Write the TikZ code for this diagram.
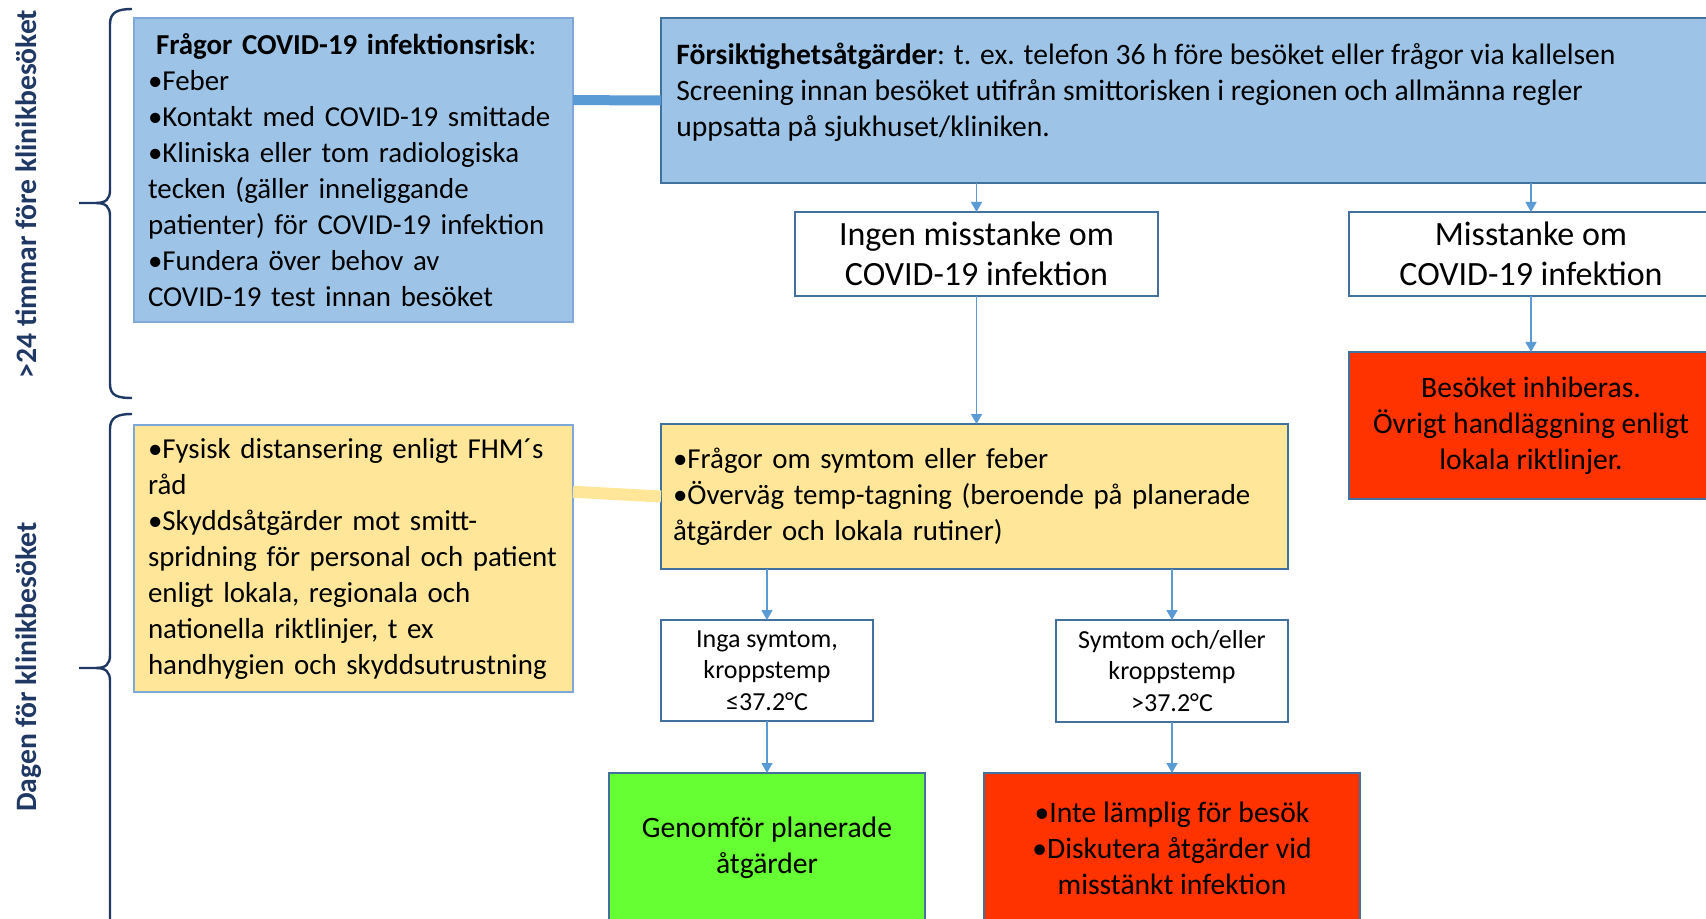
\documentclass[tikz,border=0pt]{standalone}
\usepackage{fontspec}
\setmainfont{Carlito}
\usetikzlibrary{calc,arrows.meta}
\definecolor{boxblue}{HTML}{9DC3E6}
\definecolor{boxyellow}{HTML}{FFE699}
\definecolor{boxgreen}{HTML}{66FF33}
\definecolor{boxred}{HTML}{FF3300}
\definecolor{edgeblue}{HTML}{41719C}
\definecolor{lightedge}{HTML}{7FA8D8}
\definecolor{arrowblue}{HTML}{5B9BD5}
\definecolor{navy}{HTML}{1F3864}
\tikzset{
 box/.style={draw=edgeblue, line width=1pt, rectangle, inner sep=0pt, outer sep=0pt, anchor=north west},
 lefttext/.style={font=\fontsize{14.45}{18}\selectfont},
 maintext/.style={font=\fontsize{14.8}{18}\selectfont},
 smalltext/.style={font=\fontsize{13}{15.75}\selectfont},
 bigtext/.style={font=\fontsize{17}{20}\selectfont},
 flow/.style={draw=arrowblue, line width=0.75pt, -{Triangle[length=5pt,width=5.5pt]}},
 sidelabel/.style={rotate=90, anchor=base, text=navy, font=\bfseries\fontsize{14.8}{17}\selectfont},
 bracepath/.style={draw=navy, line width=1.2pt},
}
\begin{document}
\begin{tikzpicture}[x=0.5pt,y=-0.5pt]
\useasboundingbox (0,0) rectangle (1706,919);
\clip (0,0) rectangle (1706,919);

% boxes
\node[box, fill=boxblue, draw=lightedge, minimum width=219.5pt, minimum height=152pt,
      text width=205.5pt, align=left, lefttext] (qbox) at (134,18)
 {\hspace*{4pt}\textbf{Frågor COVID-19 infektionsrisk}:\\
  •Feber\\
  •Kontakt med COVID-19 smittade\\
  •Kliniska eller tom radiologiska\\
  tecken (gäller inneliggande\\
  patienter) för COVID-19 infektion\\
  •Fundera över behov av\\
  COVID-19 test innan besöket};

\node[box, fill=boxblue, minimum width=529.5pt, minimum height=82.5pt] (fbox) at (661,18) {};
\node[maintext, align=left, anchor=north west, inner sep=0pt] (ftxt) at ([xshift=7.5pt,yshift=-12.5pt]fbox.north west)
 {\textbf{Försiktighetsåtgärder}: t. ex. telefon 36 h före besöket eller frågor via kallelsen\\
  Screening innan besöket utifrån smittorisken i regionen och allmänna regler\\
  uppsatta på sjukhuset/kliniken.};

\node[box, fill=white, minimum width=181.5pt, minimum height=42pt, align=center, bigtext] (ingen) at (795,212)
 {Ingen misstanke om\\COVID-19 infektion};
\node[box, fill=white, minimum width=182pt, minimum height=42pt, align=center, bigtext] (miss) at (1349,212)
 {Misstanke om\\COVID-19 infektion};
\node[box, fill=boxred, minimum width=182pt, minimum height=73.5pt, align=center, maintext] (besok) at (1349,352)
 {Besöket inhiberas.\\Övrigt handläggning enligt\\lokala riktlinjer.};

\node[box, fill=boxyellow, draw=lightedge, minimum width=219.5pt, minimum height=133.5pt,
      text width=205.5pt, align=left, lefttext] (ybox) at (134,425)
 {•Fysisk distansering enligt FHM´s\\
  råd\\
  •Skyddsåtgärder mot smitt-\\
  spridning för personal och patient\\
  enligt lokala, regionala och\\
  nationella riktlinjer, t ex\\
  handhygien och skyddsutrustning};

\node[box, fill=boxyellow, minimum width=313.5pt, minimum height=72.5pt,
      text width=301.5pt, align=left, lefttext] (symq) at (661,424)
 {•Frågor om symtom eller feber\\
  •Överväg temp-tagning (beroende på planerade\\
  åtgärder och lokala rutiner)};

\node[box, fill=white, minimum width=106pt, minimum height=50.5pt, align=center, smalltext] (inga) at (661,620)
 {Inga symtom,\\kroppstemp\\≤37.2°C};
\node[box, fill=white, minimum width=116pt, minimum height=51pt, align=center, smalltext] (symt) at (1056,620)
 {Symtom och/eller\\kroppstemp\\>37.2°C};

\node[box, fill=boxgreen, minimum width=158pt, minimum height=75pt, align=center, maintext] (green) at (609,773)
 {Genomför planerade\\åtgärder};
\node[box, fill=boxred, minimum width=188pt, minimum height=75pt, align=center, maintext] (redb) at (984,773)
 {•Inte lämplig för besök\\•Diskutera åtgärder vid\\misstänkt infektion};

% thick links
\draw[arrowblue, line width=5pt] ($(qbox.north east)!0.27!(qbox.south east)$) -- (fbox.west);
\draw[boxyellow, line width=6pt] ($(ybox.north east)!0.25!(ybox.south east)$) -- (symq.west);

% arrows
\draw[flow] (ingen.north |- fbox.south) -- (ingen.north);
\draw[flow] (miss.north |- fbox.south) -- (miss.north);
\draw[flow] (miss.south) -- (besok.north);
\draw[flow] (ingen.south) -- (ingen.south |- symq.north);
\draw[flow] (inga.north |- symq.south) -- (inga.north);
\draw[flow] (symt.north |- symq.south) -- (symt.north);
\draw[flow] (inga.south) -- (inga.south |- green.north);
\draw[flow] (symt.south) -- (symt.south |- redb.north);

% braces
\draw[bracepath] (132,9) .. controls (118,9) and (110,12) .. (110,24) -- (110,190)
  .. controls (110,199) and (106,203) .. (96,203) -- (79,203);
\draw[bracepath] (96,203) .. controls (106,203) and (110,207) .. (110,216) -- (110,384)
  .. controls (110,396) and (118,398) .. (132,398);
\draw[bracepath] (132,414) .. controls (118,414) and (110,417) .. (110,429) -- (110,655)
  .. controls (110,664) and (106,668) .. (96,668) -- (79,668);
\draw[bracepath] (96,668) .. controls (106,668) and (110,672) .. (110,681) -- (110,930);

% side labels
\node[sidelabel] (lab1) at (36,194) {>24 timmar före klinikbesöket};
\node[sidelabel] (lab2) at (36,667) {Dagen för klinikbesöket};
\end{tikzpicture}
\end{document}
